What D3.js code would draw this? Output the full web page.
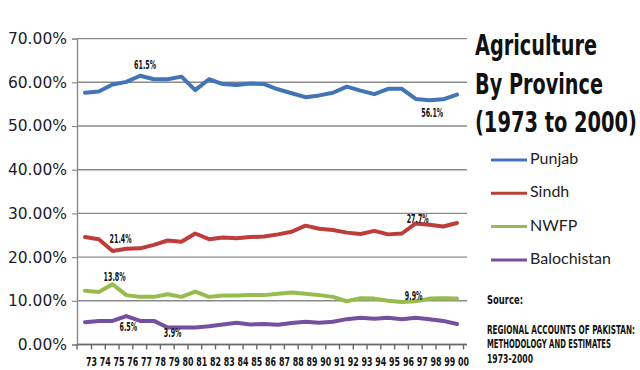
<!DOCTYPE html>
<html>
<head>
<meta charset="utf-8">
<script src="https://cdn.jsdelivr.net/npm/d3@7"></script>
<style>
  body { margin: 0; background: #fff; }
  svg { display: block; }
  .narrow { font-family: "Liberation Sans Narrow", "DejaVu Sans Condensed", sans-serif; font-weight: bold; font-stretch: condensed; }
</style>
</head>
<body>
<svg id="chart" width="640" height="370"></svg>
<script>
// years on the category axis
const years = ["73","74","75","76","77","78","79","80","81","82","83","84","85","86",
               "87","88","89","90","91","92","93","94","95","96","97","98","99","00"];

// share of agriculture by province, percent
const punjab = [57.6,57.9,59.5,60.1,61.5,60.7,60.7,61.3,58.2,60.7,59.6,59.4,59.7,59.6,
                58.4,57.5,56.6,57.0,57.6,59.0,58.1,57.3,58.5,58.5,56.2,55.9,56.1,57.2];
const sindh = [24.6,24.1,21.4,21.9,22.0,22.8,23.8,23.5,25.4,24.1,24.5,24.3,24.6,24.7,
               25.2,25.8,27.2,26.5,26.2,25.6,25.3,26.0,25.2,25.4,27.7,27.4,27.0,27.8];
const nwfp = [12.3,12.0,13.8,11.3,10.9,10.9,11.5,10.9,12.1,10.9,11.2,11.2,11.3,11.3,
              11.6,11.9,11.6,11.3,10.9,9.9,10.6,10.5,10.0,9.7,9.9,10.5,10.6,10.5];
const balochistan = [5.1,5.4,5.4,6.5,5.4,5.4,3.9,3.9,3.9,4.2,4.6,5.0,4.6,4.7,
                     4.5,4.9,5.2,5.0,5.2,5.8,6.1,5.9,6.1,5.8,6.1,5.8,5.4,4.7];

const seriesNames = ["Punjab", "Sindh", "NWFP", "Balochistan"];
const yTicks = [0, 10, 20, 30, 40, 50, 60, 70];

// data labels: which series, which year, what text
const labelSeries = ["Punjab", "Punjab", "Sindh", "Sindh", "NWFP", "NWFP", "Balochistan", "Balochistan"];
const labelYears  = ["77", "99", "75", "97", "75", "97", "76", "79"];
const labelTexts  = ["61.5%", "56.1%", "21.4%", "27.7%", "13.8%", "9.9%", "6.5%", "3.9%"];

const titleLines = ["Agriculture", "By Province", "(1973 to 2000)"];
const sourceLines = ["REGIONAL ACCOUNTS OF PAKISTAN:", "METHODOLOGY AND ESTIMATES", "1973-2000"];

const series = {
    "Punjab": punjab,
    "Sindh": sindh,
    "NWFP": nwfp,
    "Balochistan": balochistan
};
const colors = {
    "Punjab": "#4274b6",
    "Sindh": "#be3d3b",
    "NWFP": "#97bb4c",
    "Balochistan": "#7650a0"
};

let svg = d3.select("#chart");

let plotLeft = 77, plotRight = 467, plotTop = 38.6, plotBottom = 344.5;

let x = d3.scalePoint()
    .domain(years)
    .range([85, 457]);
let y = d3.scaleLinear()
    .domain([0, 70])
    .range([plotBottom, plotTop]);

// gridlines
svg.append("g")
    .selectAll("line")
    .data(yTicks)
    .enter().append("line")
    .attr("x1", plotLeft)
    .attr("x2", plotRight)
    .attr("y1", d => y(d))
    .attr("y2", d => y(d))
    .attr("stroke", "#8a8a8a")
    .attr("stroke-width", 1.4);

// y axis
let yAxis = svg.append("g")
    .attr("transform", "translate(" + plotLeft + ",0)")
    .call(d3.axisLeft(y).tickValues(yTicks).tickSize(5).tickPadding(5)
        .tickFormat(d => d.toFixed(2) + "%"));
yAxis.select(".domain").attr("stroke", "#8a8a8a").attr("stroke-width", 1.4);
yAxis.selectAll(".tick line").attr("stroke", "#8a8a8a").attr("stroke-width", 1.2);
yAxis.selectAll("text")
    .attr("fill", "#1c1c2c")
    .style("font-family", "DejaVu Sans, sans-serif")
    .style("font-size", "15.5px");

// x axis (labels sit a little right of the plotted points, as in the original)
let xAxis = svg.append("g")
    .attr("transform", "translate(6," + plotBottom + ")")
    .call(d3.axisBottom(x).tickSize(5).tickPadding(7));
xAxis.select(".domain").remove();
xAxis.selectAll(".tick line").attr("stroke", "#6a6a6a").attr("stroke-width", 1.4);
xAxis.selectAll("text")
    .attr("class", "narrow")
    .attr("fill", "#111")
    .attr("textLength", 11)
    .attr("lengthAdjust", "spacingAndGlyphs")
    .style("font-size", "13px");

svg.append("line")
    .attr("x1", plotLeft).attr("x2", plotRight)
    .attr("y1", plotBottom).attr("y2", plotBottom)
    .attr("stroke", "#6a6a6a")
    .attr("stroke-width", 1.4);
svg.append("line")
    .attr("x1", plotLeft).attr("x2", plotLeft)
    .attr("y1", plotBottom).attr("y2", plotBottom + 5)
    .attr("stroke", "#6a6a6a")
    .attr("stroke-width", 1.4);

// lines
let lineGen = d3.line()
    .x((d, i) => x(years[i]))
    .y(d => y(d));

svg.append("g")
    .selectAll("path")
    .data(seriesNames)
    .enter().append("path")
    .attr("d", d => lineGen(series[d]))
    .attr("fill", "none")
    .attr("stroke", d => colors[d])
    .attr("stroke-width", 4)
    .attr("stroke-linejoin", "round")
    .attr("stroke-linecap", "round");

// data labels
let labelDx = [5, -11, 8, 2, 2, -2, 2, 5];
let labelDy = [-10, 14, -11, -4, -7, -5, 11, 6];
svg.append("g")
    .selectAll("text")
    .data(labelTexts)
    .enter().append("text")
    .attr("class", "narrow")
    .attr("x", (d, i) => x(labelYears[i]) + labelDx[i])
    .attr("y", (d, i) => y(series[labelSeries[i]][years.indexOf(labelYears[i])]) + labelDy[i])
    .attr("text-anchor", "middle")
    .attr("dominant-baseline", "middle")
    .attr("textLength", d => d.length * 4.4)
    .attr("lengthAdjust", "spacingAndGlyphs")
    .attr("fill", "#111")
    .style("font-size", "12px")
    .text(d => d);

// title
let titleWidths = [122, 128, 162];
svg.append("g")
    .selectAll("text")
    .data(titleLines)
    .enter().append("text")
    .attr("class", "narrow")
    .attr("x", 475)
    .attr("y", (d, i) => 55 + i * 38.5)
    .attr("textLength", (d, i) => titleWidths[i])
    .attr("lengthAdjust", "spacingAndGlyphs")
    .attr("fill", "#111")
    .style("font-size", "29px")
    .text(d => d);

// legend
let legend = svg.append("g")
    .selectAll("g")
    .data(seriesNames)
    .enter().append("g")
    .attr("transform", (d, i) => "translate(491," + (160 + i * 33.3) + ")");
legend.append("line")
    .attr("x1", 0).attr("x2", 36)
    .attr("stroke", d => colors[d])
    .attr("stroke-width", 3);
legend.append("text")
    .attr("x", 39)
    .attr("dominant-baseline", "middle")
    .attr("fill", "#222")
    .style("font-family", "Lato, sans-serif")
    .style("font-size", "16px")
    .text(d => d);

// source note
svg.append("text")
    .attr("class", "narrow")
    .attr("x", 487).attr("y", 300)
    .attr("dominant-baseline", "middle")
    .attr("textLength", 36)
    .attr("lengthAdjust", "spacingAndGlyphs")
    .attr("fill", "#111")
    .style("font-size", "12px")
    .text("Source:");
let sourceWidths = [148, 124, 46];
svg.append("g")
    .selectAll("text")
    .data(sourceLines)
    .enter().append("text")
    .attr("class", "narrow")
    .attr("x", 487)
    .attr("y", (d, i) => 330 + i * 14.5)
    .attr("dominant-baseline", "middle")
    .attr("textLength", (d, i) => sourceWidths[i])
    .attr("lengthAdjust", "spacingAndGlyphs")
    .attr("fill", "#111")
    .style("font-size", "11.5px")
    .text(d => d);
</script>
</body>
</html>
